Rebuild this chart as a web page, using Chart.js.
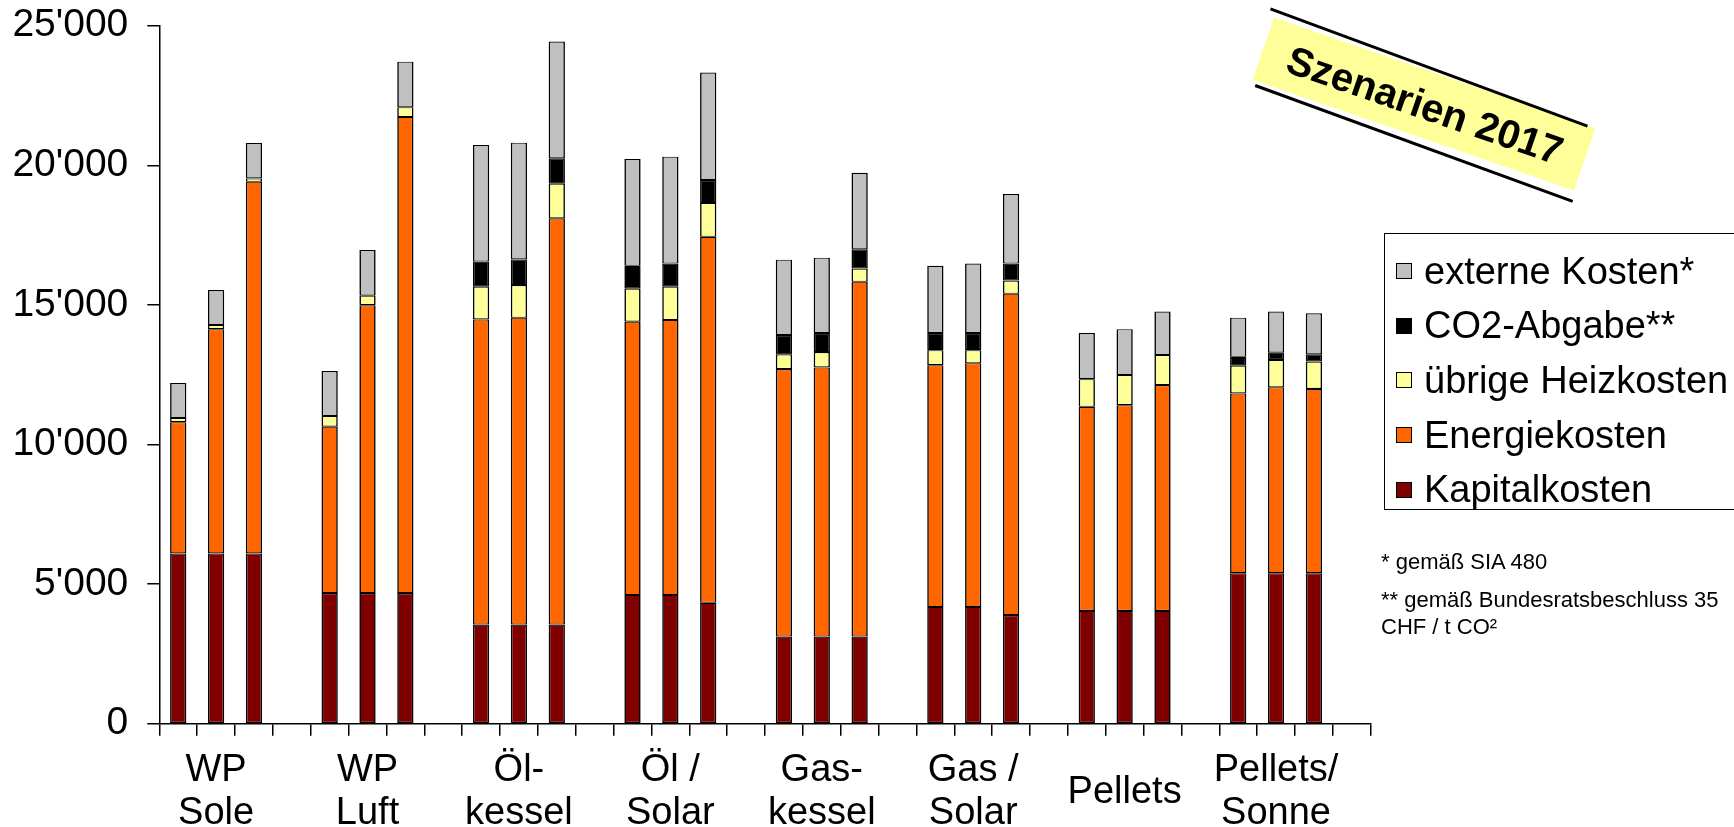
<!DOCTYPE html>
<html>
<head>
<meta charset="utf-8">
<script src="https://cdn.jsdelivr.net/npm/chart.js@4/dist/chart.umd.min.js"></script>
<style>
  html, body { margin: 0; padding: 0; background: #fff; }
  #wrap { position: relative; width: 1734px; height: 827px; overflow: hidden; font-family: "Liberation Sans", Arial, sans-serif; color: #000; }
  #chart { position: absolute; left: 0; top: 0; width: 1734px; height: 827px; }
  #legend { position: absolute; left: 1384px; top: 233px; width: 360px; height: 275px; border: 1.5px solid #000; background: #fff; }
  .row { position: absolute; left: 0; height: 55px; line-height: 55px; font-size: 38px; white-space: nowrap; display: flex; align-items: center; }
  .sw { width: 14px; height: 14px; border: 1px solid #000; margin-left: 11px; margin-right: 12px; }
  .note { position: absolute; left: 1381px; font-size: 22px; line-height: 27px; white-space: nowrap; }
  .rot { position: absolute; transform-origin: 50% 50%; }
  #bbox { left: 1254px; top: 71px; width: 340px; height: 66px; background: #FFFF99; transform: rotate(19deg); }
  #btxt { left: 1255px; top: 72px; width: 340px; height: 66px; line-height: 66px; text-align: center; font-weight: bold; font-size: 40px; transform: rotate(19deg); }
  #bl1 { left: 1260.25px; top: 66.2px; width: 337.5px; height: 2.7px; background: #000; transform: rotate(20.3deg); }
  #bl2 { left: 1244.9px; top: 141.6px; width: 338px; height: 2.7px; background: #000; transform: rotate(20.06deg); }
</style>
</head>
<body>
<div id="wrap">
  <div id="chart"><canvas id="c"></canvas></div>
  <div class="rot" id="bbox"></div>
  <div class="rot" id="bl1"></div>
  <div class="rot" id="bl2"></div>
  <div class="rot" id="btxt">Szenarien 2017</div>
  <div id="legend"></div>
  <div class="note" style="top:548px">* gemäß SIA 480</div>
  <div class="note" style="top:586px">** gemäß Bundesratsbeschluss 35<br>CHF / t CO²</div>
</div>
<script>
// ---- data (CHF per year), three scenarios per heating system ----
const groups = [["WP","Sole"],["WP","Luft"],["Öl-","kessel"],["Öl /","Solar"],["Gas-","kessel"],["Gas /","Solar"],"Pellets",["Pellets/","Sonne"]];
const kapitalkosten     = [6100,6100,6100, 4680,4680,4680, 3550,3550,3550, 4610,4610,4330, 3120,3120,3120, 4180,4180,3890, 4040,4040,4040, 5390,5390,5390];
const energiekosten     = [4700,8030,13310, 5960,10310,17050, 10930,10990,14550, 9790,9850,13110, 9580,9640,12710, 8660,8730,11510, 7310,7370,8090, 6440,6660,6600];
const uebrigeHeizkosten = [150,150,120, 380,340,350, 1170,1170,1240, 1180,1190,1210, 530,550,470, 540,470,470, 990,1080,1080, 990,980,980];
const co2Abgabe         = [0,0,0, 0,0,0, 900,920,910, 820,830,820, 690,680,690, 610,610,610, 0,0,0, 320,260,260];
const externeKosten     = [1250,1250,1270, 1610,1640,1630, 4180,4180,4180, 3830,3830,3850, 2700,2700,2740, 2410,2490,2490, 1650,1640,1550, 1400,1470,1470];
const yTicks = [0, 5000, 10000, 15000, 20000, 25000];

const seriesNames  = ["Kapitalkosten","Energiekosten","übrige Heizkosten","CO2-Abgabe**","externe Kosten*"];
const seriesColors = ["#800000","#FF6600","#FFFF99","#000000","#C0C0C0"];
const seriesValues = [kapitalkosten, energiekosten, uebrigeHeizkosten, co2Abgabe, externeKosten];

// 4 slots per group: 3 bars + 1 gap
const labels = [];
groups.forEach(g => { labels.push('', g, '', ''); });
function expand(arr) {
  const out = [];
  for (let g = 0; g < groups.length; g++) {
    for (let j = 0; j < 3; j++) out.push(arr[g*3+j]);
    out.push(null);
  }
  return out;
}

const datasets = seriesValues.map((v, i) => ({
  label: seriesNames[i],
  data: expand(v),
  backgroundColor: seriesColors[i],
  borderColor: '#000',
  borderWidth: {left: 1.6, right: 1.6, top: 1.1, bottom: 1.1},
  borderSkipped: false,
  categoryPercentage: 1.0,
  barPercentage: 0.43
}));

function fmt(v) { return String(v).replace(/\B(?=(\d{3})+(?!\d))/g, "'"); }

new Chart(document.getElementById('c'), {
  type: 'bar',
  data: { labels, datasets },
  options: {
    responsive: true,
    maintainAspectRatio: false,
    animation: false,
    events: [],
    layout: { padding: { top: 25.7, right: 363.3, bottom: 0, left: 0 } },
    plugins: { legend: { display: false }, tooltip: { enabled: false } },
    scales: {
      x: {
        stacked: true,
        offset: true,
        grid: { offset: true, drawOnChartArea: false, drawTicks: true, tickLength: 12, color: '#000', lineWidth: 1.5 },
        border: { display: true, color: '#000', width: 1.5 },
        ticks: {
          autoSkip: false, maxRotation: 0, minRotation: 0, color: '#000',
          crossAlign: 'center', padding: 35,
          font: { family: '"Liberation Sans", Arial, sans-serif', size: 38, lineHeight: 1.13 }
        },
        afterFit(s) { s.height = 103.3; s.paddingLeft = 0; s.paddingRight = 0; }
      },
      y: {
        stacked: true,
        min: 0, max: 25000,
        afterBuildTicks(s) { s.ticks = yTicks.map(v => ({ value: v })); },
        grid: { drawOnChartArea: false, drawTicks: true, tickLength: 12, color: '#000', lineWidth: 1.5 },
        border: { display: true, color: '#000', width: 1.5 },
        ticks: {
          color: '#000', padding: 19,
          font: { family: '"Liberation Sans", Arial, sans-serif', size: 39 },
          callback: (v) => fmt(v)
        },
        afterFit(s) { s.width = 159.3; s.paddingTop = 0; s.paddingBottom = 0; }
      }
    }
  }
});

// legend (reverse stacking order, as in the original)
const leg = document.getElementById('legend');
const rowTops = [9.5, 64.2, 118.9, 173.6, 228.3];
[4,3,2,1,0].forEach((si, k) => {
  const r = document.createElement('div');
  r.className = 'row';
  r.style.top = rowTops[k] + 'px';
  const sw = document.createElement('div');
  sw.className = 'sw';
  sw.style.background = seriesColors[si];
  const t = document.createElement('span');
  t.textContent = seriesNames[si];
  r.appendChild(sw); r.appendChild(t);
  leg.appendChild(r);
});
</script>
</body>
</html>
